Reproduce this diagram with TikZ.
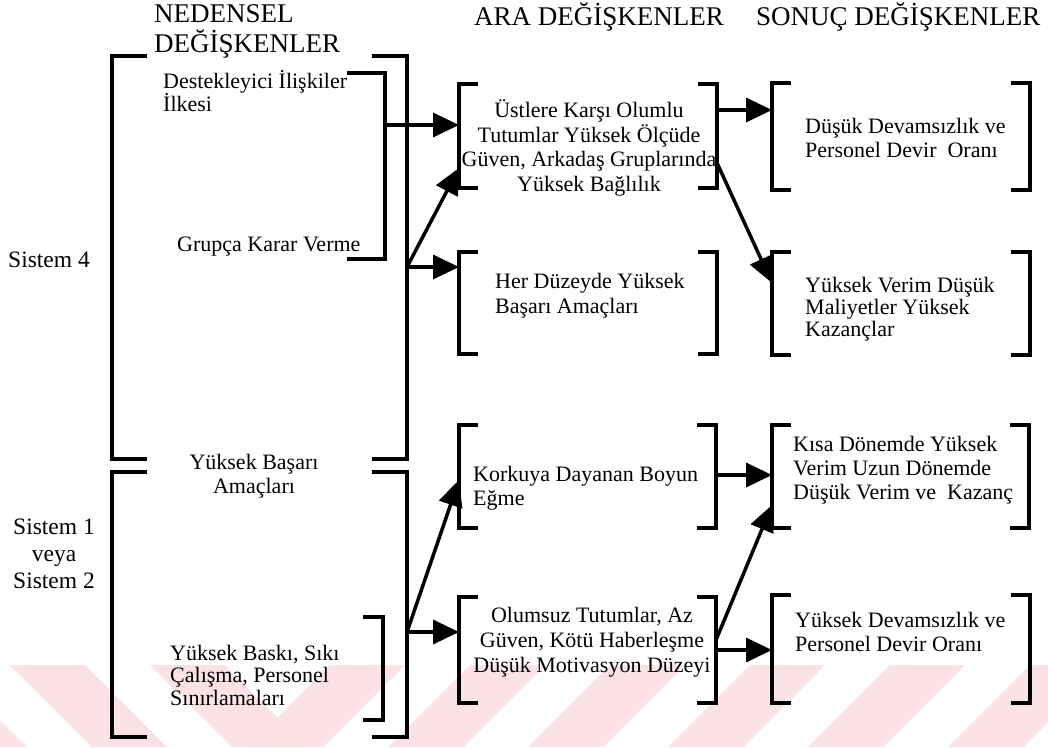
\documentclass[tikz,border=0pt]{standalone}
\usepackage{fontspec}
\setmainfont{Liberation Serif}
\usetikzlibrary{arrows.meta,calc,fit}
\definecolor{wmpink}{RGB}{251,226,231}
\tikzset{
  area/.style={draw=none, inner sep=0pt, outer sep=0pt},
  brk/.style={line width=4.5pt, line join=miter},
  inbrk/.style={line width=4pt, line join=miter},
  arr/.style={line width=3.5pt, -{Triangle[length=26pt,width=24pt]}},
  txt/.style={inner sep=0pt, font=\fontsize{22}{23.5}\selectfont},
  side/.style={inner sep=0pt, font=\fontsize{23.5}{27}\selectfont},
  head/.style={inner sep=0pt, font=\fontsize{27}{30}\selectfont},
}
% bracket pairs drawn on the corners of a named area
\newcommand\leftbrk[3]{\draw[#3] ([xshift=#2]#1.north west) -| (#1.south west) -- ++(#2,0);}
\newcommand\rightbrk[3]{\draw[#3] ([xshift=-#2]#1.north east) -| (#1.south east) -- ++(-#2,0);}
\begin{document}
\begin{tikzpicture}[x=1pt,y=-1pt]
\useasboundingbox (0,0) rectangle (1048,747);
\fill[white] (0,0) rectangle (1048,747);

% faint striped band along the bottom
\begin{scope}
  \clip (0,665) rectangle (1048,747);
  \foreach \s in {-130,10,150} {
    \fill[wmpink] (\s,665) -- ++(75,0) -- ++(82,82) -- ++(-75,0) -- cycle;
  }
  \foreach \s in {330,470,610,750,890,1030,1170} {
    \fill[wmpink] (\s,665) -- ++(75,0) -- ++(-82,82) -- ++(-75,0) -- cycle;
  }
\end{scope}

% headings
\node[head, anchor=west, align=left] (h1) at (154,31) {NEDENSEL\\DEĞİŞKENLER};
\node[head, anchor=west] (h2) at (474,17) {ARA DEĞİŞKENLER};
\node[head, anchor=west] (h3) at (756,17) {SONUÇ DEĞİŞKENLER};

% areas enclosed by brackets
\node[area, fit={(112,56) (407,459)}] (sys4) {};
\node[area, fit={(112,472) (407,737)}] (sys12) {};
\node[area, fit={(160,73) (385,259)}] (destek) {};
\node[area, fit={(165,617) (383,720)}] (baski) {};
\node[area, fit={(459,84) (717,188)}] (ust) {};
\node[area, fit={(459,252) (717,354)}] (her) {};
\node[area, fit={(459,425) (716,528)}] (kork) {};
\node[area, fit={(459,597) (716,703)}] (olum) {};
\node[area, fit={(772,83) (1030,190)}] (dusuk) {};
\node[area, fit={(772,252) (1030,355)}] (verim) {};
\node[area, fit={(772,425) (1029,528)}] (kisa) {};
\node[area, fit={(772,595) (1030,703)}] (ydev) {};

% brackets
\leftbrk{sys4}{35}{brk}   \rightbrk{sys4}{35}{brk}
\leftbrk{sys12}{35}{brk}  \rightbrk{sys12}{35}{brk}
\rightbrk{destek}{38}{inbrk}
\rightbrk{baski}{20}{inbrk}
\foreach \b in {ust,her,kork,olum,dusuk,verim,kisa,ydev} {
  \leftbrk{\b}{19}{brk} \rightbrk{\b}{19}{brk}
}

% texts
\node[side, anchor=west] (s4) at (8,260) {Sistem 4};
\node[side, align=center] (s12) at (54,554) {Sistem 1\\veya\\Sistem 2};
\node[txt, anchor=west, align=left] (t1) at (163,91) {Destekleyici İlişkiler\\İlkesi};
\node[txt, anchor=west] (t2) at (177,247) {Grupça Karar Verme};
\node[txt, align=center] (t3) at (254,476) {Yüksek Başarı\\Amaçları};
\node[txt, anchor=west, align=left, font=\fontsize{22}{22.5}\selectfont] (t4) at (170,675) {Yüksek Baskı, Sıkı\\Çalışma, Personel\\Sınırlamaları};
\node[txt, align=center, font=\fontsize{22}{24.5}\selectfont] (t5) at (589,148) {Üstlere Karşı Olumlu\\Tutumlar Yüksek Ölçüde\\Güven, Arkadaş Gruplarında\\Yüksek Bağlılık};
\node[txt, anchor=west, align=left, font=\fontsize{22}{25}\selectfont] (t6) at (495,296) {Her Düzeyde Yüksek\\Başarı Amaçları};
\node[txt, anchor=west, align=left] (t7) at (473,488) {Korkuya Dayanan Boyun\\Eğme};
\node[txt, align=center, font=\fontsize{22}{25}\selectfont] (t8) at (592,642) {Olumsuz Tutumlar, Az\\Güven, Kötü Haberleşme\\Düşük Motivasyon Düzeyi};
\node[txt, anchor=west, align=left] (t9) at (805,138) {Düşük Devamsızlık ve\\Personel Devir\ \ Oranı};
\node[txt, anchor=west, align=left, font=\fontsize{22}{22}\selectfont] (t10) at (805,309) {Yüksek Verim Düşük\\Maliyetler Yüksek\\Kazançlar};
\node[txt, anchor=west, align=left, font=\fontsize{22}{24}\selectfont] (t11) at (793,470) {Kısa Dönemde Yüksek\\Verim Uzun Dönemde\\Düşük Verim ve\ \ Kazanç};
\node[txt, anchor=west, align=left] (t12) at (795,632) {Yüksek Devamsızlık ve\\Personel Devir Oranı};

% connectors
\draw[arr] (destek.east |- 0,125) -- (ust.west |- 0,125);
\draw[arr] (sys4.east |- 0,267) -- (ust.west |- 0,168);
\draw[arr] (sys4.east |- 0,267) -- (her.west |- 0,267);
\draw[arr] (ust.east |- 0,110) -- (dusuk.west |- 0,110);
\draw[arr] (ust.east |- 0,163) -- (verim.west |- 0,283);
\draw[arr] (sys12.east |- 0,632) -- (kork.west |- 0,480);
\draw[arr] (sys12.east |- 0,632) -- (olum.west |- 0,632);
\draw[arr] (kork.east |- 0,475) -- (kisa.west |- 0,475);
\draw[arr] (olum.east |- 0,640) -- (kisa.west |- 0,505);
\draw[arr] (olum.east |- 0,650) -- (ydev.west |- 0,650);
\end{tikzpicture}
\end{document}
